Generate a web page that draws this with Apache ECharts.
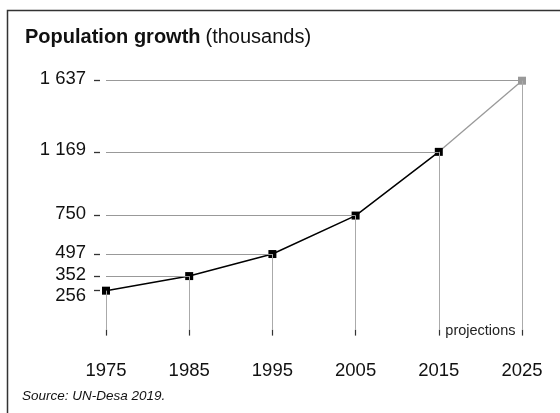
<!DOCTYPE html>
<html>
<head>
<meta charset="utf-8">
<script src="https://cdn.jsdelivr.net/npm/echarts@6/dist/echarts.min.js"></script>
<style>
  html, body { margin: 0; padding: 0; background: #fff; }
  #chart { width: 560px; height: 413px; }
</style>
</head>
<body>
<div id="chart"></div>
<script>
var years = ['1975', '1985', '1995', '2005', '2015', '2025'];
var population = [256, 352, 497, 750, 1169, 1637];
var historicalCount = 5; // 1975–2015 observed, 2025 projection
var titleMain = 'Population growth';
var titleUnit = '(thousands)';
var sourceText = 'Source: UN-Desa 2019.';
var projectionLabel = 'projections';

var FONT = '"Liberation Sans", Arial, Helvetica, sans-serif';

function fmt(v) {
  return String(v).replace(/\B(?=(\d{3})+(?!\d))/g, ' ');
}

var observed = population.map(function (v, i) { return i < historicalCount ? v : null; });
var projected = population.map(function (v, i) {
  if (i < historicalCount - 1) return null;
  if (i === historicalCount - 1) return { value: v, symbol: 'none' };
  return v;
});

var hLines = population.map(function (v, i) {
  return [{ coord: [years[0], v] }, { coord: [years[i], v] }];
});
var vLines = population.map(function (v, i) {
  return [{ coord: [years[i], v] }, { coord: [years[i], 0] }];
});

var chart = echarts.init(document.getElementById('chart'), null, { renderer: 'canvas' });

var option = {
  animation: false,
  backgroundColor: '#fff',
  title: {
    text: '{b|' + titleMain + '} {n|' + titleUnit + '}',
    left: 25,
    top: 27,
    padding: 0,
    textStyle: {
      rich: {
        b: { fontFamily: FONT, fontSize: 20, fontWeight: 'bold', color: '#111' },
        n: { fontFamily: FONT, fontSize: 20, fontWeight: 'normal', color: '#111' }
      }
    }
  },
  grid: { left: 106, right: 38, top: 80.7, bottom: 83.4 },
  xAxis: {
    type: 'category',
    data: years,
    boundaryGap: false,
    offset: 2,
    axisLine: { show: false },
    axisTick: { show: true, length: 6, lineStyle: { color: '#333', width: 1.2 } },
    axisLabel: { margin: 30, fontFamily: FONT, fontSize: 18.5, color: '#111' },
    splitLine: { show: false }
  },
  yAxis: {
    type: 'value',
    min: 0,
    max: population[population.length - 1],
    offset: 6,
    axisLine: { show: false },
    splitLine: { show: false },
    axisTick: {
      show: true, length: 6, customValues: population,
      lineStyle: { color: '#333', width: 1.3 }
    },
    axisLabel: {
      margin: 14,
      customValues: population,
      fontFamily: FONT, fontSize: 18.5, color: '#111',
      formatter: function (v) {
        return v === population[0] ? '{low|' + fmt(v) + '}' : '{n|' + fmt(v) + '}';
      },
      rich: {
        low: { fontFamily: FONT, fontSize: 18.5, color: '#111', padding: [10, 0, 0, 0] },
        n: { fontFamily: FONT, fontSize: 18.5, color: '#111', padding: [0, 0, 3, 0] }
      }
    }
  },
  series: [
    {
      name: 'guides',
      type: 'line',
      data: [],
      silent: true,
      z: 1,
      markLine: {
        symbol: 'none',
        silent: true,
        label: { show: false },
        lineStyle: { color: '#999', width: 1, type: 'solid' },
        data: hLines
      }
    },
    {
      name: 'verticals',
      type: 'line',
      data: [],
      silent: true,
      z: 1,
      markLine: {
        symbol: 'none',
        silent: true,
        label: { show: false },
        lineStyle: { color: '#aaa', width: 1, type: 'solid' },
        data: vLines
      }
    },
    {
      name: 'projection',
      type: 'line',
      data: projected,
      symbol: 'rect',
      symbolSize: 8,
      showAllSymbol: true,
      lineStyle: { color: '#999', width: 1.3 },
      itemStyle: { color: '#999', borderWidth: 0 },
      z: 3
    },
    {
      name: 'observed',
      type: 'line',
      data: observed,
      symbol: 'rect',
      symbolSize: 8,
      showAllSymbol: true,
      lineStyle: { color: '#000', width: 1.5 },
      itemStyle: { color: '#000', borderWidth: 0 },
      z: 4
    }
  ],
  graphic: [
    {
      type: 'rect',
      shape: { x: 7.5, y: 10.5, width: 700, height: 600 },
      style: { fill: 'none', stroke: '#333', lineWidth: 1.5 },
      silent: true
    },
    {
      type: 'text',
      left: 22,
      top: 389,
      style: {
        text: sourceText, fontFamily: FONT, fontSize: 13.5,
        fontStyle: 'italic', fill: '#111'
      }
    }
  ]
};

chart.setOption(option);

// place the "projections" note between the last observed year and the projected year
var x1 = chart.convertToPixel({ xAxisIndex: 0 }, years[historicalCount - 1]);
var x2 = chart.convertToPixel({ xAxisIndex: 0 }, years[years.length - 1]);
var y0 = chart.convertToPixel({ yAxisIndex: 0 }, 0);
chart.setOption({
  graphic: [
    {},
    {},
    {
      type: 'text',
      x: (x1 + x2) / 2,
      y: y0 + 1,
      style: {
        text: projectionLabel, fontFamily: FONT, fontSize: 14.5, fill: '#222',
        align: 'center', verticalAlign: 'middle',
        backgroundColor: '#fff', padding: [0, 2]
      },
      z: 10
    }
  ]
});
</script>
</body>
</html>
